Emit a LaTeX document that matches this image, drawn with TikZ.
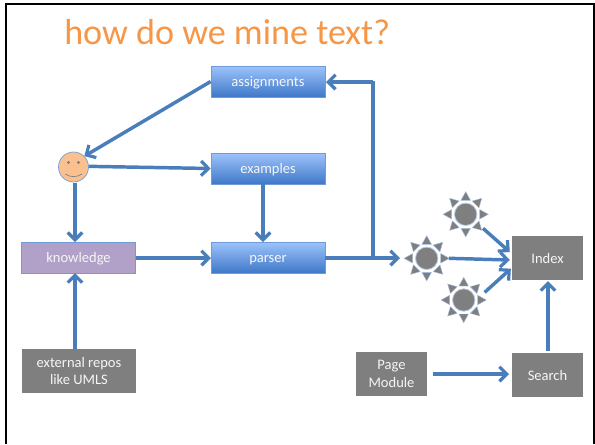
\documentclass[tikz,border=0pt]{standalone}
\usepackage{fontspec}
\setmainfont{Carlito}
\usetikzlibrary{arrows.meta}
\definecolor{flow}{HTML}{4A7EBB}
\definecolor{boxtop}{HTML}{9DC3FB}
\definecolor{boxbot}{HTML}{3F78C8}
\definecolor{boxedge}{HTML}{6F9BD8}
\definecolor{purp}{HTML}{B1A0C7}
\definecolor{gry}{HTML}{7F7F7F}
\definecolor{orng}{HTML}{F79646}
\definecolor{face}{HTML}{FAC090}
\newcommand{\lowr}[1]{\raisebox{-0.7pt}{#1}}
\tikzset{
  every node/.style={font=\fontsize{10.9}{13.3}\selectfont, text=white!93!gray, align=center, inner sep=0pt},
  bluebox/.style={minimum width=85.5pt, minimum height=23.2pt, text height=9pt, text depth=2pt, top color=boxtop, bottom color=boxbot, draw=boxedge, line width=0.5pt},
  purplebox/.style={minimum width=85.5pt, minimum height=23.2pt, text height=9pt, text depth=2pt, fill=purp, draw=boxedge, line width=0.5pt},
  graybox/.style={fill=gry},
  flowline/.style={draw=flow, line width=2.6pt, -{Straight Barb[length=5.5pt,width=11pt,line width=2.4pt]}},
  plainline/.style={draw=flow, line width=2.6pt},
  sunnode/.style={circle, minimum size=33pt},
  ray/.style={fill=gry, draw=boxedge!60!white, line width=0.3pt},
  disk/.style={fill=gry, draw=boxedge!50!white, line width=0.6pt}
}
\newcommand{\sunshape}[1]{%
  \foreach \a in {0,45,...,315} {
    \path[ray] ([shift={(\a+18.9:11.1pt)}]#1.center) -- ([shift={(\a-18.9:11.1pt)}]#1.center) -- ([shift={(\a:17pt)}]#1.center) -- cycle;
  }
  \path[disk] (#1.center) circle[radius=8.4pt];
}
\begin{document}
\begin{tikzpicture}[x=0.75pt,y=-0.75pt]
\useasboundingbox (0,0) rectangle (595,444);
\fill[white] (0,0) rectangle (595,444);
% slide frame
\draw[black, line width=1.6pt] (6,444) -- (6,4) -- (594,4) -- (594,444);
% title
\node[font=\fontsize{27.1}{30}\selectfont, text=orng, anchor=west] (title) at (64,32) {how do we mine text?};
% boxes
\node[bluebox] (assign) at (268,81.5) {assignments};
\node[bluebox] (examples) at (268,168.5) {examples};
\node[bluebox] (parser) at (268,257.5) {parser};
\node[purplebox] (know) at (78.5,257.5) {knowledge};
\node[graybox, minimum width=85.5pt, minimum height=33pt] (ext) at (79,371) {\lowr{external repos}\\\lowr{like UMLS}};
\node[graybox, minimum width=53.2pt, minimum height=33pt] (index) at (547.5,258) {Index};
\node[graybox, minimum width=53.2pt, minimum height=33pt] (page) at (391.5,374) {\lowr{Page}\\\lowr{Module}};
\node[graybox, minimum width=53.2pt, minimum height=33pt] (search) at (547.5,375) {Search};
% smiley
\node[circle, minimum size=22.5pt, fill=face, draw=boxedge, line width=0.5pt] (me) at (73.5,167) {};
\fill[gry] (68.5,162.5) circle[radius=1.3pt];
\fill[gry] (78.5,162.5) circle[radius=1.3pt];
\draw[gry, line width=0.5pt] (65,174) .. controls (70,177.5) and (77,177.5) .. (82,174);
% suns
\node[sunnode] (s1) at (465.7,214.3) {};
\node[sunnode] (s2) at (426.7,258.3) {};
\node[sunnode] (s3) at (463.7,300) {};
\sunshape{s1}\sunshape{s2}\sunshape{s3}
% junction
\coordinate (junc) at (373,258);
\coordinate (corner) at (373,82);
\coordinate (pout) at (325,258);
\coordinate (pin) at (400,258);
\coordinate (kout) at (136,258);
\coordinate (kin) at (211,258);
\coordinate (mefoot) at (75,183);
\coordinate (kntop) at (75,242);
\coordinate (extop) at (75,349);
\coordinate (knbot) at (75,273);
\coordinate (extop2) at (263,184);
\coordinate (pstop) at (263,242);
\coordinate (schtop) at (548,351);
\coordinate (idxbot) at (548,281);
\coordinate (pgout) at (433,374);
\coordinate (schin) at (509,374);
\coordinate (asin) at (326,82);
% connectors
\draw[flowline] (assign.west) -- (me.north east);
\draw[flowline] ([yshift=0.5pt]me.east) -- (examples.west);
\draw[flowline] (mefoot) -- (kntop);
\draw[flowline] (extop2) -- (pstop);
\draw[flowline] (kout) -- (kin);
\draw[flowline] (extop) -- (knbot);
\draw[flowline] (pout) -- (pin);
\draw[plainline] (junc) -- ([yshift=1pt]corner);
\draw[flowline] (corner) -- (asin);
\draw[flowline] (s1.-39) -- ([shift={(-1.5pt,4.5pt)}]index.west);
\draw[flowline] (s2.east) -- ([shift={(-1.5pt,-1.5pt)}]index.west);
\draw[flowline] (s3.20) -- ([shift={(-0.7pt,-8pt)}]index.west);
\draw[flowline] (schtop) -- (idxbot);
\draw[flowline] (pgout) -- (schin);
\end{tikzpicture}
\end{document}
